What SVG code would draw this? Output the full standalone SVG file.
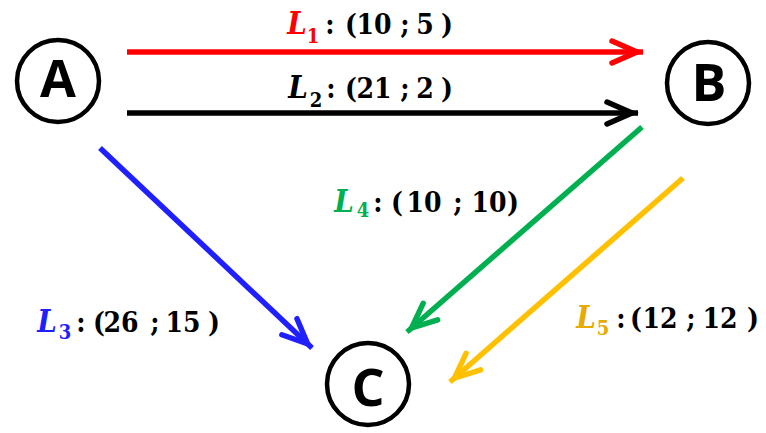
<svg xmlns="http://www.w3.org/2000/svg" width="766" height="433" viewBox="0 0 766 433">
<style>
.node circle{fill:#fff;stroke:#000;stroke-width:4.5}
.node text{font-family:"Open Sans","Liberation Sans",sans-serif;font-weight:700;font-size:52px;text-anchor:middle;fill:#000}
.edge{fill:none;stroke-width:5.5}
.lbl{font-family:'DejaVu Serif Condensed','DejaVu Serif',serif;font-weight:700;font-size:28px;fill:#000;text-anchor:middle}
.L{font-style:italic;font-size:31px}
.sub{font-size:20px}
</style>
<defs>
<marker id="mr" markerUnits="userSpaceOnUse" orient="auto" overflow="visible" markerWidth="10" markerHeight="10"><path d="M-31,-11 L-6,0 L-31,11" fill="none" stroke="#FF0000" stroke-width="5.5" stroke-linecap="round"/></marker>
<marker id="mk" markerUnits="userSpaceOnUse" orient="auto" overflow="visible" markerWidth="10" markerHeight="10"><path d="M-31,-11 L-6,0 L-31,11" fill="none" stroke="#000" stroke-width="5.5" stroke-linecap="round"/></marker>
<marker id="mb" markerUnits="userSpaceOnUse" orient="auto" overflow="visible" markerWidth="10" markerHeight="10"><path d="M-31,-11 L-6,0 L-31,11" fill="none" stroke="#1F1FFF" stroke-width="5.5" stroke-linecap="round"/></marker>
<marker id="mg" markerUnits="userSpaceOnUse" orient="auto" overflow="visible" markerWidth="10" markerHeight="10"><path d="M-31,-11 L-6,0 L-31,11" fill="none" stroke="#00B050" stroke-width="5.5" stroke-linecap="round"/></marker>
<marker id="my" markerUnits="userSpaceOnUse" orient="auto" overflow="visible" markerWidth="10" markerHeight="10"><path d="M-31,-11 L-6,0 L-31,11" fill="none" stroke="#FFC000" stroke-width="5.5" stroke-linecap="round"/></marker>
</defs>
<g id="connectors">
<line class="edge" x1="127" y1="52" x2="643" y2="52" stroke="#FF0000" marker-end="url(#mr)"/>
<line class="edge" x1="127" y1="113" x2="638" y2="113" stroke="#000" marker-end="url(#mk)"/>
<line class="edge" x1="100" y1="148" x2="312" y2="348" stroke="#1F1FFF" marker-end="url(#mb)"/>
<line class="edge" x1="642" y1="127" x2="407" y2="332" stroke="#00B050" marker-end="url(#mg)"/>
<line class="edge" x1="683" y1="178" x2="450" y2="382" stroke="#FFC000" marker-end="url(#my)"/>
</g>
<g id="labels">
<text class="lbl" y="34"><tspan class="L" x="297" fill="#FF0000">L</tspan><tspan class="sub" x="313" y="43" fill="#FF0000">1</tspan><tspan x="330" y="34">:</tspan><tspan x="351">(</tspan><tspan x="374">10</tspan><tspan x="405">;</tspan><tspan x="425">5</tspan><tspan x="447">)</tspan></text>
<text class="lbl" y="98"><tspan class="L" x="298">L</tspan><tspan class="sub" x="316" y="107">2</tspan><tspan x="331" y="98">:</tspan><tspan x="351">(</tspan><tspan x="374">21</tspan><tspan x="405">;</tspan><tspan x="425">2</tspan><tspan x="447">)</tspan></text>
<text class="lbl" y="212"><tspan class="L" x="344" fill="#00B050">L</tspan><tspan class="sub" x="363" y="217" fill="#00B050">4</tspan><tspan x="378" y="212">:</tspan><tspan x="397">(</tspan><tspan x="424">10</tspan><tspan x="458">;</tspan><tspan x="489">10</tspan><tspan x="513">)</tspan></text>
<text class="lbl" y="332"><tspan class="L" x="47" fill="#1F1FFF">L</tspan><tspan class="sub" x="65" y="339" fill="#1F1FFF">3</tspan><tspan x="81" y="332">:</tspan><tspan x="99">(</tspan><tspan x="121">26</tspan><tspan x="155">;</tspan><tspan x="183">15</tspan><tspan x="214">)</tspan></text>
<text class="lbl" y="328"><tspan class="L" x="586" fill="#E6AA00">L</tspan><tspan class="sub" x="603" y="335" fill="#E6AA00">5</tspan><tspan x="621" y="328">:</tspan><tspan x="636">(</tspan><tspan x="660">12</tspan><tspan x="691">;</tspan><tspan x="720">12</tspan><tspan x="753">)</tspan></text>
</g>
<g id="A" class="node"><circle cx="58" cy="81" r="41"/><text x="58" y="97">A</text></g>
<g id="B" class="node"><circle cx="708" cy="83" r="41"/><text x="709" y="101">B</text></g>
<g id="C" class="node"><circle cx="368" cy="384" r="41"/><text x="368" y="406">C</text></g>
</svg>
